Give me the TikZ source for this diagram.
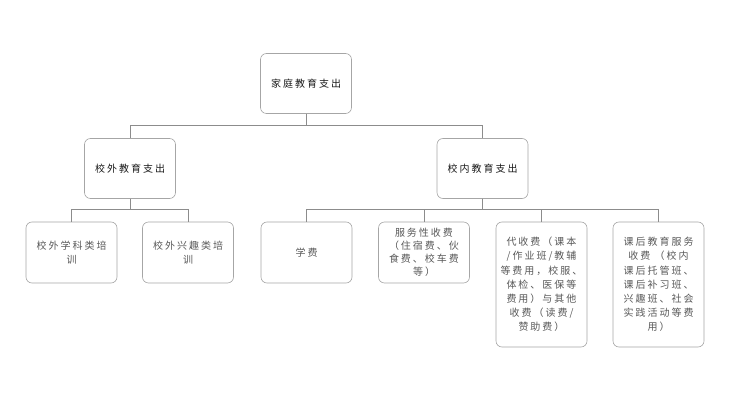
\documentclass[tikz,border=0pt]{standalone}
\usepackage{fontspec}
\newfontfamily\cjk[LetterSpace=20]{Noto Sans CJK SC}
\usepackage{tikz}
\usetikzlibrary{positioning}

\begin{document}
\begin{tikzpicture}[
  x=1pt, y=-1pt,
  box/.style={rectangle, draw=black!35, line width=0.6pt, rounded corners=6pt, align=center, fill=white, minimum width=91pt, minimum height=61pt, inner sep=2pt, text=black!65, font={\cjk\fontsize{10}{14.2}\selectfont}},
  headbox/.style={box, minimum height=60pt, text=black!90},
  tallbox/.style={box, minimum height=125pt},
  link/.style={draw=black!45, line width=0.6pt}
]
\useasboundingbox (0,0) rectangle (730,411);

% Top and second level
\node[headbox] (root) at (306, 83.5) {家庭教育支出};
\node[headbox] (outside) at (130, 168.5) {校外教育支出};
\node[headbox] (inside) at (482.5, 168.5) {校内教育支出};

% Outside school
\node[box] (subject) at (71.5, 252.5) {校外学科类培\\训};
\node[box] (hobby) at (188, 252.5) {校外兴趣类培\\训};

% Inside school
\node[box] (tuition) at (306.5, 252.5) {学费};
\node[box, font={\cjk\fontsize{10}{13}\selectfont}] (service) at (424, 252.5) {服务性收费\\（住宿费、伙\\食费、校车费\\等）};
\node[tallbox] (agency) at (541.5, 284.5) {代收费（课本\\/作业班/教辅\\等费用，校服、\\体检、医保等\\费用）与其他\\收费（读费/\\赞助费）};
\node[tallbox] (after) at (658.5, 284.5) {课后教育服务\\收费 （校内\\课后托管班、\\课后补习班、\\兴趣班、社会\\实践活动等费\\用）};

% Tree links
\draw[link] (root.south) -- ++(0,12) -| (outside.north);
\draw[link] (root.south) -- ++(0,12) -| (inside.north);
\draw[link] (outside.south) -- ++(0,11) -| (subject.north);
\draw[link] (outside.south) -- ++(0,11) -| (hobby.north);
\draw[link] (inside.south) -- ++(0,11) -| (tuition.north);
\draw[link] (inside.south) -- ++(0,11) -| (service.north);
\draw[link] (inside.south) -- ++(0,11) -| (agency.north);
\draw[link] (inside.south) -- ++(0,11) -| (after.north);
\end{tikzpicture}
\end{document}
